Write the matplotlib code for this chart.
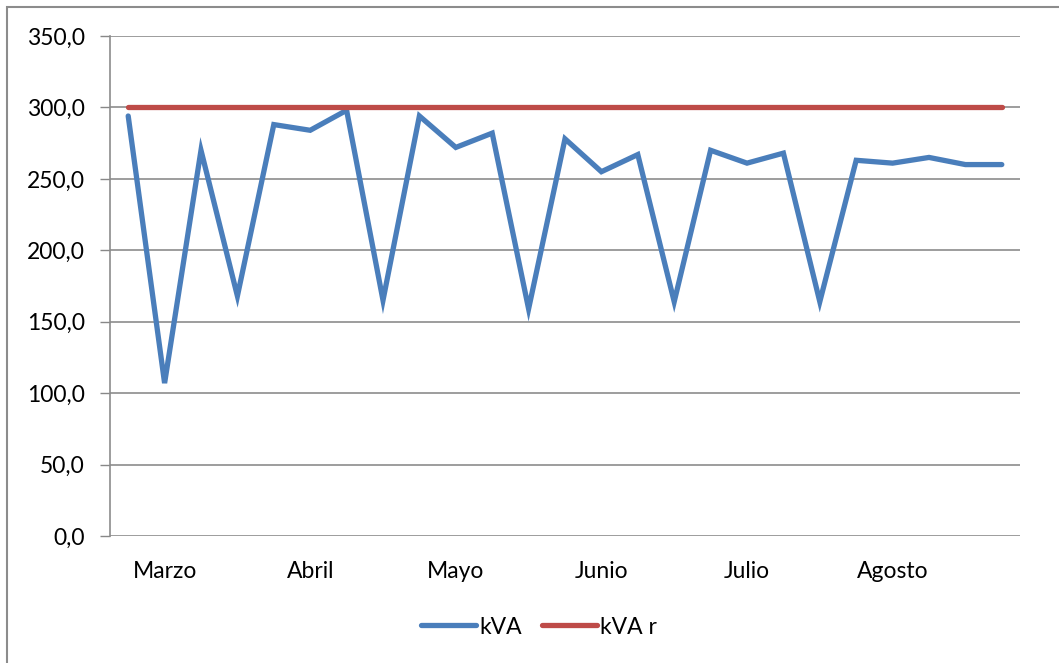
import matplotlib
matplotlib.use('Agg')
import matplotlib.pyplot as plt
from matplotlib.patches import Rectangle

plt.rcParams['font.family'] = ['Lato', 'DejaVu Sans']

# readings, one per category slot
kva = [294, 107, 270, 168, 288, 284, 298, 165, 294, 272, 282, 159, 278, 255,
       267, 164, 270, 261, 268, 164, 263, 261, 265, 260, 260]
kva_r = [300] * len(kva)
month_labels = ['Marzo', 'Abril', 'Mayo', 'Junio', 'Julio', 'Agosto']
month_pos = [1, 5, 9, 13, 17, 21]
y_ticks = [0, 50, 100, 150, 200, 250, 300, 350]

fig = plt.figure(figsize=(10.59, 6.63), dpi=100)
ax = fig.add_axes([110 / 1059, 1 - 536 / 663, 910 / 1059, 500 / 663])

x = list(range(len(kva)))
ax.plot(x, kva, color='#4a7ebb', lw=3.8, solid_capstyle='round', solid_joinstyle='miter', label='kVA', zorder=3)
ax.plot(x, kva_r, color='#be4b48', lw=3.8, solid_capstyle='round', label='kVA r', zorder=3)

ax.set_xlim(-0.5, len(kva) - 0.5)
ax.set_ylim(0, 350)
ax.set_yticks(y_ticks)
ax.set_yticklabels([f'{v:.1f}'.replace('.', ',') for v in y_ticks], fontsize=16.5)
ax.set_xticks(month_pos)
ax.set_xticklabels(month_labels, fontsize=16.5)
ax.tick_params(axis='x', length=0, pad=18)
ax.tick_params(axis='y', length=7, color='#888888', width=1, pad=11)
ax.grid(axis='y', color='#8c8c8c', lw=1.2)
ax.set_axisbelow(True)
for side in ['top', 'right', 'bottom']:
    ax.spines[side].set_visible(False)
ax.spines['left'].set_color('#8c8c8c')
ax.spines['left'].set_linewidth(1.2)

leg = fig.legend(loc='center', bbox_to_anchor=(539 / 1059, 1 - 627 / 663), ncol=2, frameon=False,
                 fontsize=16.5, handlelength=2.4, handletextpad=0.12, columnspacing=0.9)

# outer chart border
fig.patches.append(Rectangle((6.5 / 1059, -0.01), 1.1, 1 - 6.5 / 663 + 0.01, transform=fig.transFigure,
                             fill=False, edgecolor='#8c8c8c', lw=1.5))

fig.savefig('out.png', dpi=100)
